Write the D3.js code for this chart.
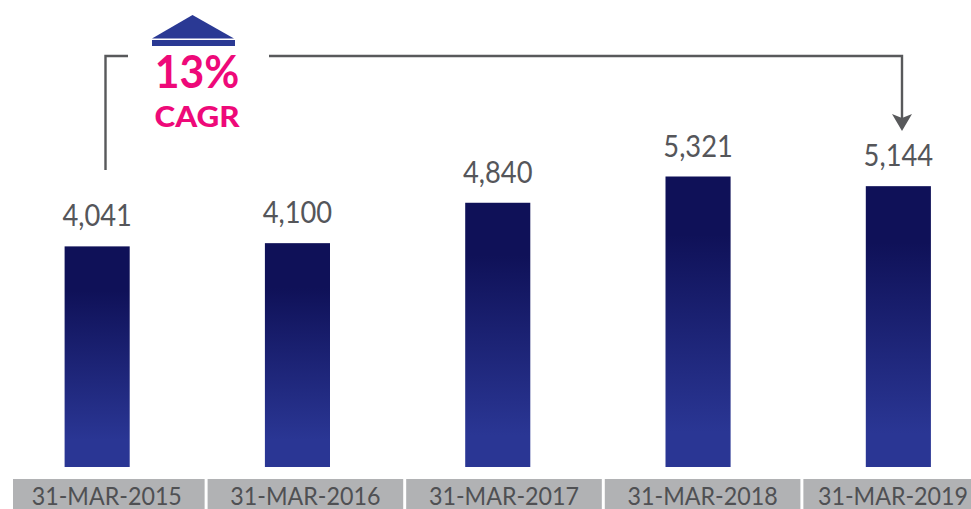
<!DOCTYPE html>
<html><head><meta charset="utf-8">
<script src="https://cdn.jsdelivr.net/npm/d3@7/dist/d3.min.js"></script>
<style>html,body{margin:0;padding:0;background:#fff;overflow:hidden}svg{display:block}text{font-family:Lato,"Open Sans",sans-serif}</style>
</head><body><svg id="c" width="971" height="509"></svg>
<script>
const categories = ["31-MAR-2015","31-MAR-2016","31-MAR-2017","31-MAR-2018","31-MAR-2019"];
const values = [4041,4100,4840,5321,5144];
const cagrValue = "13%";
const cagrLabel = "CAGR";

const W=971,H=509;
const svg=d3.select("#c");
const baseY=467;
const y=d3.scaleLinear().domain([0,5321]).range([baseY,176.5]);
const x=d3.scaleBand().domain(categories).range([-3,998.5]).paddingInner(0.675).paddingOuter(0.3375);
const cell=d3.scaleBand().domain(categories).range([9,999]).paddingInner(0.015).paddingOuter(0);

const defs=svg.append("defs");
const g=defs.append("linearGradient").attr("id","barGrad").attr("x1",0).attr("y1",0).attr("x2",0).attr("y2",1);
[[0,"#0f1158"],[0.2,"#0f1158"],[0.88,"#2a3694"],[1,"#2a3694"]].forEach(s=>g.append("stop").attr("offset",s[0]).attr("stop-color",s[1]));

svg.selectAll("rect.bar").data(values).join("rect").attr("class","bar")
  .attr("x",(d,i)=>x(categories[i])).attr("width",x.bandwidth())
  .attr("y",d=>y(d)).attr("height",d=>baseY-y(d)).attr("fill","url(#barGrad)");

svg.selectAll("text.val").data(values).join("text").attr("class","val")
  .attr("transform",(d,i)=>`translate(${x(categories[i])+x.bandwidth()/2},${y(d)-20}) scale(0.88,1)`)
  .attr("text-anchor","middle")
  .attr("font-size",31).attr("fill","#55565a")
  .text(d3.format(","));

svg.selectAll("rect.cell").data(categories).join("rect").attr("class","cell")
  .attr("x",d=>Math.max(cell(d),13))
  .attr("width",d=>Math.min(cell(d)+cell.bandwidth(),W)-Math.max(cell(d),13))
  .attr("y",479).attr("height",30).attr("fill","#b1b2b4");

svg.selectAll("text.cat").data(categories).join("text").attr("class","cat")
  .attr("transform",d=>`translate(${Math.min(cell(d)+cell.bandwidth()/2,893)},505) scale(0.95,1)`)
  .attr("text-anchor","middle")
  .attr("font-size",24.5).attr("fill","#4f5053")
  .text(d=>d);

// CAGR bracket
const line="#58595b";
svg.append("path").attr("d","M105.5 170V56H128").attr("fill","none").attr("stroke",line).attr("stroke-width",2.4);
svg.append("path").attr("d","M269 56H902V118").attr("fill","none").attr("stroke",line).attr("stroke-width",2.4);
svg.append("path").attr("d","M892 114L902 118L912 114L902 131Z").attr("fill",line);

// Up marker
svg.append("path").attr("d","M192.5 15L152 38.5H234Z").attr("fill","#2a3994");
svg.append("rect").attr("x",152).attr("y",40).attr("width",83).attr("height",6).attr("fill","#2a3994");

svg.append("text").attr("transform","translate(197,88) scale(0.93,1)").attr("text-anchor","middle")
  .attr("font-size",46).attr("font-weight",700).attr("fill","#ee0979").text(cagrValue);
svg.append("text").attr("transform","translate(197,127) scale(1.12,1)").attr("text-anchor","middle")
  .attr("font-size",28).attr("font-weight",900).attr("fill","#ee0979").text(cagrLabel);
</script></body></html>
